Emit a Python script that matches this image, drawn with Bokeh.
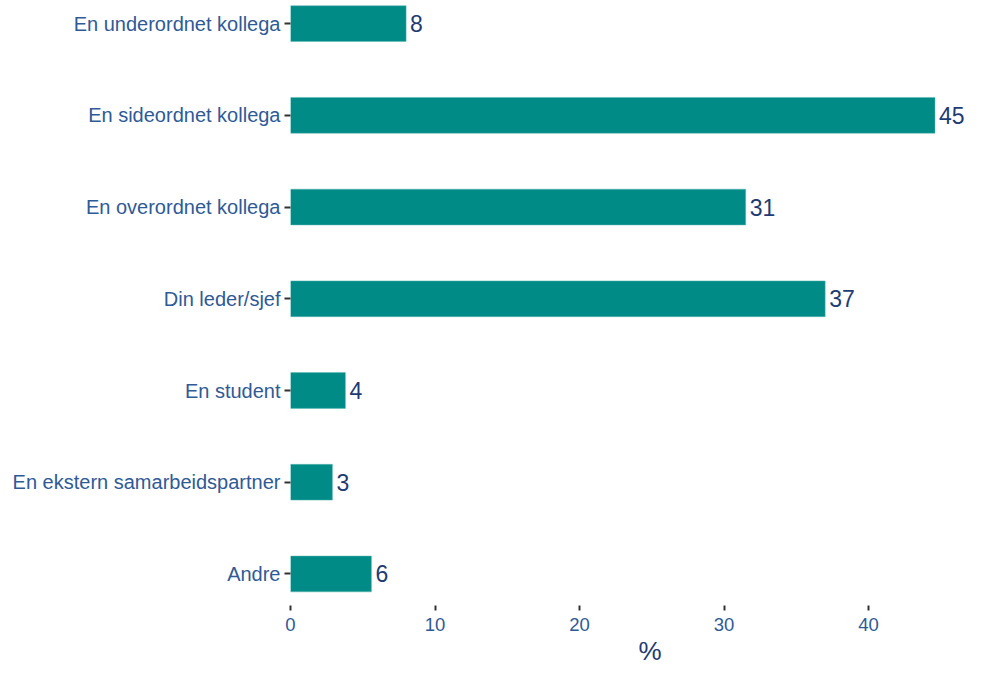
from bokeh.plotting import figure
from bokeh.models import Range1d, FixedTicker, ColumnDataSource, Title
from bokeh.core.properties import value
from bokeh.embed import file_html
from bokeh.resources import INLINE

categories = ["En underordnet kollega", "En sideordnet kollega", "En overordnet kollega",
              "Din leder/sjef", "En student", "En ekstern samarbeidspartner", "Andre"]
values = [8.0, 44.6, 31.5, 37.0, 3.8, 2.9, 5.6]
labels = ["8", "45", "31", "37", "4", "3", "6"]
x_ticks = [0, 10, 20, 30, 40]

n = len(categories)
ypos = [n - 1 - i for i in range(n)]
src = ColumnDataSource(dict(y=ypos, v=values, lab=labels, cat=categories))

p = figure(width=966, height=665, output_backend="svg", toolbar_location=None,
           x_range=Range1d(0, 46.78), y_range=Range1d(-0.344, n - 1 + 0.252),
           min_border_left=290, min_border_right=0, min_border_top=0, min_border_bottom=10)
p.background_fill_color = "white"
p.border_fill_color = "white"
p.outline_line_color = None
p.grid.grid_line_color = None

p.hbar(y="y", left=0, right="v", height=0.39, source=src,
       fill_color="#008B86", line_color="#5FB8B4", line_width=0.5)
p.text(x="v", y="y", text="lab", source=src, x_offset=4, text_baseline="middle",
       text_align="left", text_font_size="23px", text_color="#1F3B73",
       text_font=value("Liberation Sans"))

p.yaxis.ticker = FixedTicker(ticks=ypos)
p.yaxis.major_label_overrides = {y: c for y, c in zip(ypos, categories)}
p.xaxis.ticker = FixedTicker(ticks=x_ticks)

for ax in (p.xaxis[0], p.yaxis[0]):
    ax.axis_line_color = None
    ax.major_tick_line_color = "#333333"
    ax.major_tick_line_width = 2
    ax.major_tick_in = 0
    ax.minor_tick_line_color = None
    ax.major_label_text_font = "Liberation Sans"
    ax.major_label_text_color = "#2F5A96"

p.yaxis.major_tick_out = 6
p.yaxis.major_label_standoff = 4
p.yaxis.major_label_text_font_size = "20px"
p.xaxis.major_tick_out = 5
p.xaxis.major_label_standoff = 7
p.xaxis.major_label_text_font_size = "18.5px"

t = Title(text="%", align="left", offset=348, text_font="Liberation Sans",
          text_font_style="normal", text_font_size="26px", text_color="#1F3B73",
          standoff=0)
p.add_layout(t, "below")

open("out.html", "w").write(file_html(p, INLINE))
